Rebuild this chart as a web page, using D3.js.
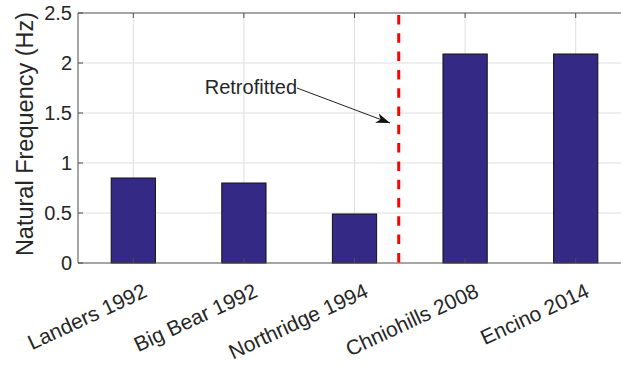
<!DOCTYPE html>
<html><head><meta charset="utf-8">
<script src="https://cdn.jsdelivr.net/npm/d3@7"></script>
<style>body{margin:0;background:#fff;}svg{display:block;font-family:"Liberation Sans",Arial,sans-serif;}</style>
</head><body>
<svg id="c" width="621" height="366"></svg>
<script>
const categories = ["Landers 1992","Big Bear 1992","Northridge 1994","Chniohills 2008","Encino 2014"];
const values = [0.85, 0.80, 0.49, 2.09, 2.09];
const yTicks = [0, 0.5, 1, 1.5, 2, 2.5];
const yTickLabels = ["0","0.5","1","1.5","2","2.5"];
const retrofitX = 3.4;
const annotationText = "Retrofitted";

(function(){
const svg = d3.select("#c");
const pL = 78, pT = 13, pB = 263, pR = 631;
const x = d3.scaleLinear().domain([0.5, 5.5]).range([pL, pR]);
const y = d3.scaleLinear().domain([0, 2.5]).range([pB, pT]);
const axisCol = "#4d4d4d", textCol = "#262626";

svg.append("g").selectAll("line").data(yTicks.slice(1,-1)).join("line")
  .attr("x1", pL).attr("x2", pR).attr("y1", d=>y(d)).attr("y2", d=>y(d))
  .attr("stroke", "#dfdfdf").attr("stroke-width", 1);
svg.append("g").selectAll("line").data(categories).join("line")
  .attr("x1", (d,i)=>x(i+1)).attr("x2", (d,i)=>x(i+1)).attr("y1", pT).attr("y2", pB)
  .attr("stroke", "#dfdfdf").attr("stroke-width", 1);

const bw = 0.4;
svg.append("g").selectAll("rect").data(values).join("rect")
  .attr("x", (d,i)=>x(i+1-bw/2)).attr("width", (d,i)=>x(i+1+bw/2)-x(i+1-bw/2))
  .attr("y", d=>y(d)).attr("height", d=>y(0)-y(d))
  .attr("fill", "#342a86").attr("stroke", "#111").attr("stroke-width", 1);

svg.append("line").attr("x1", pL).attr("x2", pR).attr("y1", pB).attr("y2", pB).attr("stroke", axisCol);
svg.append("line").attr("x1", pL).attr("x2", pR).attr("y1", pT).attr("y2", pT).attr("stroke", axisCol);
svg.append("line").attr("x1", pL).attr("x2", pL).attr("y1", pT).attr("y2", pB).attr("stroke", axisCol);

svg.append("g").selectAll("line").data(yTicks).join("line")
  .attr("x1", pL).attr("x2", pL+5).attr("y1", d=>y(d)).attr("y2", d=>y(d)).attr("stroke", axisCol);
categories.forEach((c,i)=>{
  svg.append("line").attr("x1", x(i+1)).attr("x2", x(i+1)).attr("y1", pB).attr("y2", pB-5).attr("stroke", axisCol);
  svg.append("line").attr("x1", x(i+1)).attr("x2", x(i+1)).attr("y1", pT).attr("y2", pT+5).attr("stroke", axisCol);
});

svg.append("g").selectAll("text").data(yTicks).join("text")
  .attr("x", 72).attr("y", d=>y(d)).attr("dy", "0.36em")
  .attr("text-anchor", "end").attr("font-size", 20).attr("fill", textCol)
  .text((d,i)=>yTickLabels[i]);

svg.append("g").selectAll("text").data(categories).join("text")
  .attr("transform", (d,i)=>`translate(${x(i+1)+15},${pB+33}) rotate(-25)`)
  .attr("text-anchor", "end").attr("font-size", 21).attr("fill", textCol)
  .text(d=>d);

svg.append("text").attr("transform", `translate(33,134) rotate(-90)`)
  .attr("text-anchor", "middle").attr("font-size", 23.5).attr("fill", textCol)
  .text("Natural Frequency (Hz)");

svg.append("line").attr("x1", x(retrofitX)).attr("x2", x(retrofitX)).attr("y1", 15).attr("y2", pB)
  .attr("stroke", "#ff0000").attr("stroke-width", 3).attr("stroke-dasharray", "9.5,8.8");

svg.append("defs").append("marker").attr("id","ah").attr("viewBox","0 0 14 10")
  .attr("refX",14).attr("refY",5).attr("markerWidth",14).attr("markerHeight",10).attr("markerUnits","userSpaceOnUse").attr("orient","auto")
  .append("path").attr("d","M0,0 L14,5 L0,10 L4,5 Z").attr("fill","#111");
svg.append("text").attr("x", 297).attr("y", 94).attr("text-anchor","end")
  .attr("font-size", 20).attr("fill", textCol).text(annotationText);
svg.append("line").attr("x1", 297).attr("y1", 88).attr("x2", 390).attr("y2", 123)
  .attr("stroke", "#222").attr("stroke-width", 1).attr("marker-end","url(#ah)");
})();
</script>
</body></html>
